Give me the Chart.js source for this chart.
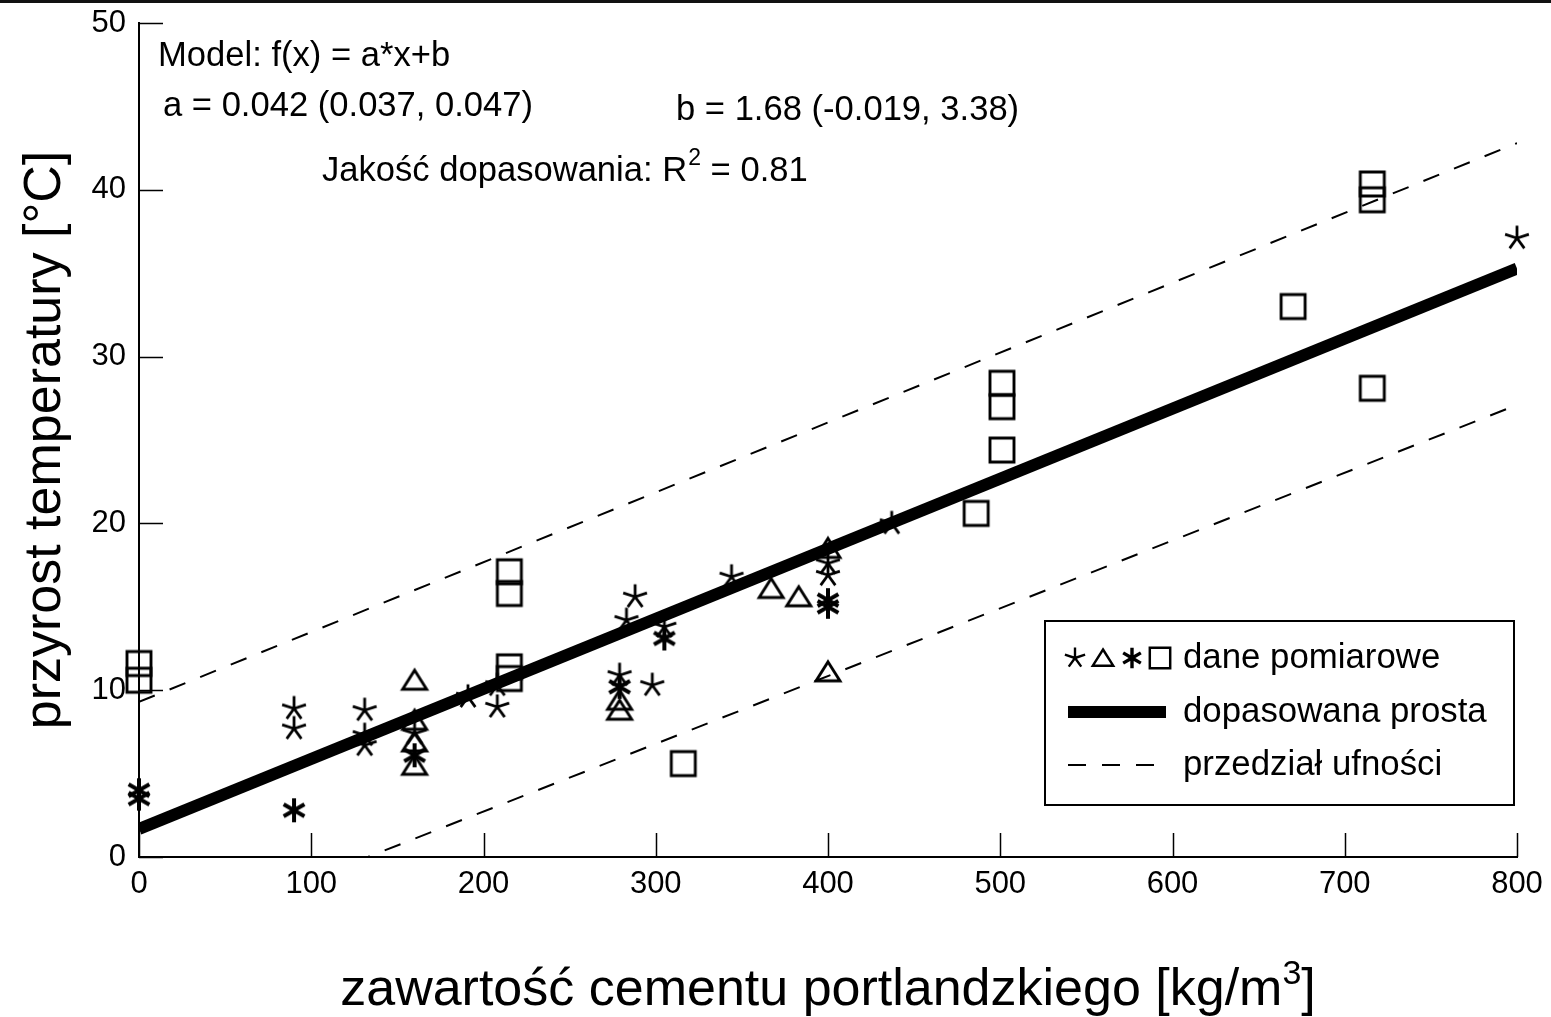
<!DOCTYPE html>
<html>
<head>
<meta charset="utf-8">
<script src="https://cdn.jsdelivr.net/npm/chart.js@4/dist/chart.umd.min.js"></script>
<style>
  html, body { margin: 0; padding: 0; background: #fff; }
  #wrap { position: relative; width: 1551px; height: 1017px; }
  #topbar { position: absolute; left: 0; top: 0; width: 1551px; height: 3px; background: #111; }
</style>
</head>
<body>
<div id="wrap">
  <canvas id="c" width="1551" height="1017"></canvas>
  <div id="topbar"></div>
</div>
<script>
// Measurements: cement content [kg/m3] vs temperature rise [°C]
const thinStarX = [90, 90, 131, 131, 131, 160, 191, 208, 208, 279, 283, 288, 298, 305, 344, 400, 400, 437, 800];
const thinStarY = [8.9, 7.7, 8.8, 7.3, 6.7, 7.4, 9.6, 10.3, 9.0, 10.9, 14.2, 15.6, 10.3, 13.8, 16.8, 17.6, 16.9, 20.0, 37.1];

const triangleX = [160, 160, 160, 160, 279, 279, 367, 383, 400, 400];
const triangleY = [10.6, 8.2, 6.9, 5.5, 9.4, 8.8, 16.1, 15.6, 18.5, 11.1];

const boldStarX = [0, 0, 90, 160, 279, 305, 400, 400];
const boldStarY = [4.0, 3.5, 2.8, 6.1, 10.2, 13.1, 15.4, 15.0];

const squareX = [0, 0, 215, 215, 215, 215, 316, 486, 501, 501, 501, 670, 716, 716, 716];
const squareY = [11.6, 10.6, 17.1, 15.8, 11.4, 10.7, 5.6, 20.6, 28.4, 27.0, 24.4, 33.0, 40.35, 39.4, 28.1];

// Fitted model f(x) = a*x + b
const fitA = 0.042;
const fitB = 1.68;
const fitX = [0, 800];

// Confidence band end points
const upperX = [0, 800];
const upperY = [9.3, 42.8];
const lowerX = [0, 800];
const lowerY = [-5.4, 27.1];

const xTicks = [0, 100, 200, 300, 400, 500, 600, 700, 800];
const yTicks = [0, 10, 20, 30, 40, 50];

const FONT = '"Liberation Sans", Arial, Helvetica, sans-serif';
const DASH = [17, 16];

function pts(xs, ys) { return xs.map((x, i) => ({ x: x, y: ys[i] })); }

// Marker glyphs drawn onto small canvases, used as point styles
function drawMarker(g, kind) {
  g.strokeStyle = '#000';
  g.lineCap = 'butt';
  g.lineJoin = 'miter';
  g.beginPath();
  if (kind === 'thinStar') {
    g.lineWidth = 2.8;
    [-90, -18, 54, 126, 198].forEach(a => {
      const r = a * Math.PI / 180;
      g.moveTo(0, 0);
      g.lineTo(12.5 * Math.cos(r), 12.5 * Math.sin(r));
    });
  } else if (kind === 'boldStar') {
    g.lineWidth = 4;
    [-90, 90, -30, 150, 30, -150].forEach(a => {
      const r = a * Math.PI / 180;
      g.moveTo(0, 0);
      g.lineTo(12 * Math.cos(r), 12 * Math.sin(r));
    });
  } else if (kind === 'triangle') {
    g.lineWidth = 2.9;
    g.moveTo(0, -10);
    g.lineTo(12, 9);
    g.lineTo(-12, 9);
    g.closePath();
  } else if (kind === 'square') {
    g.lineWidth = 2.9;
    g.rect(-12, -12, 24, 24);
  }
  g.stroke();
}

function markerCanvas(kind) {
  const c = document.createElement('canvas');
  c.width = 36; c.height = 36;
  const g = c.getContext('2d');
  g.translate(18, 18);
  drawMarker(g, kind);
  return c;
}

const markers = {
  thinStar: markerCanvas('thinStar'),
  triangle: markerCanvas('triangle'),
  boldStar: markerCanvas('boldStar'),
  square: markerCanvas('square')
};

function scatterSet(label, xs, ys, kind, order) {
  return {
    label: label,
    data: pts(xs, ys),
    pointStyle: markers[kind],
    pointRadius: 12,
    pointHoverRadius: 12,
    showLine: false,
    clip: false,
    order: order
  };
}

function lineSet(label, data, width, dash, order) {
  return {
    label: label,
    data: data,
    showLine: true,
    borderColor: '#000',
    borderWidth: width,
    borderDash: dash,
    borderCapStyle: 'butt',
    pointRadius: 0,
    pointHoverRadius: 0,
    fill: false,
    order: order
  };
}

const TEXT_PX = 34.6;

// Inward tick marks, annotations, legend and axis titles
const decorPlugin = {
  id: 'decor',
  afterDraw(chart) {
    const ctx = chart.ctx;
    const xs = chart.scales.x, ys = chart.scales.y;
    const area = chart.chartArea;
    ctx.save();
    ctx.strokeStyle = '#000';
    ctx.lineWidth = 1.5;
    ctx.beginPath();
    xTicks.forEach(v => {
      const px = Math.round(xs.getPixelForValue(v)) + 0.5;
      ctx.moveTo(px, area.bottom);
      ctx.lineTo(px, area.bottom - 24);
    });
    yTicks.forEach(v => {
      const py = Math.round(ys.getPixelForValue(v)) + 0.5;
      ctx.moveTo(area.left, py);
      ctx.lineTo(area.left + 24, py);
    });
    ctx.stroke();

    // model annotation
    ctx.fillStyle = '#000';
    ctx.textBaseline = 'alphabetic';
    ctx.textAlign = 'left';
    ctx.font = TEXT_PX + 'px ' + FONT;
    ctx.fillText('Model: f(x) = a*x+b', 158, 66);
    ctx.fillText('a = ' + fitA.toFixed(3) + ' (0.037, 0.047)', 163, 116);
    ctx.fillText('b = ' + fitB.toFixed(2) + ' (-0.019, 3.38)', 676, 120);
    let tx = 322;
    const t1 = 'Jakość dopasowania: R';
    ctx.fillText(t1, tx, 181);
    tx += ctx.measureText(t1).width;
    ctx.font = '23px ' + FONT;
    ctx.fillText('2', tx + 1, 165);
    tx += ctx.measureText('2').width + 1;
    ctx.font = TEXT_PX + 'px ' + FONT;
    ctx.fillText(' = 0.81', tx, 181);

    // legend
    const L = { x: 1045, y: 621, w: 469, h: 184 };
    ctx.fillStyle = '#fff';
    ctx.fillRect(L.x, L.y, L.w, L.h);
    ctx.lineWidth = 2;
    ctx.strokeRect(L.x, L.y, L.w, L.h);
    const rows = [658, 712, 765];
    const kinds = ['thinStar', 'triangle', 'boldStar', 'square'];
    const kx = [1075, 1103, 1132, 1160];
    kinds.forEach((k, i) => {
      ctx.save();
      ctx.translate(kx[i], rows[0]);
      ctx.scale(0.85, 0.85);
      drawMarker(ctx, k);
      ctx.restore();
    });
    ctx.lineCap = 'butt';
    ctx.lineWidth = 12;
    ctx.beginPath();
    ctx.moveTo(1068, rows[1]);
    ctx.lineTo(1166, rows[1]);
    ctx.stroke();
    ctx.lineWidth = 2;
    ctx.setLineDash([18, 16]);
    ctx.beginPath();
    ctx.moveTo(1068, rows[2]);
    ctx.lineTo(1158, rows[2]);
    ctx.stroke();
    ctx.setLineDash([]);
    ctx.fillStyle = '#000';
    ctx.font = '34.8px ' + FONT;
    ctx.textBaseline = 'middle';
    ctx.fillText('dane pomiarowe', 1183, rows[0]);
    ctx.fillText('dopasowana prosta', 1183, rows[1]);
    ctx.fillText('przedział ufności', 1183, rows[2]);

    // axis titles
    ctx.textBaseline = 'alphabetic';
    ctx.font = '52px ' + FONT;
    const xt1 = 'zawartość cementu portlandzkiego [kg/m';
    const w1 = ctx.measureText(xt1).width;
    ctx.font = '34px ' + FONT;
    const w2 = ctx.measureText('3').width;
    ctx.font = '52px ' + FONT;
    const w3 = ctx.measureText(']').width;
    let sx = 828 - (w1 + w2 + w3) / 2;
    ctx.fillText(xt1, sx, 1005);
    sx += w1;
    ctx.font = '34px ' + FONT;
    ctx.fillText('3', sx, 984);
    sx += w2;
    ctx.font = '52px ' + FONT;
    ctx.fillText(']', sx, 1005);

    ctx.save();
    ctx.translate(60, 440);
    ctx.rotate(-Math.PI / 2);
    ctx.textAlign = 'center';
    ctx.fillText('przyrost temperatury [°C]', 0, 0);
    ctx.restore();
    ctx.restore();
  }
};

new Chart(document.getElementById('c'), {
  type: 'scatter',
  data: {
    datasets: [
      lineSet('dopasowana prosta', fitX.map(x => ({ x: x, y: fitA * x + fitB })), 12, [], 0),
      lineSet('przedział ufności (górny)', pts(upperX, upperY), 2, DASH, 1),
      lineSet('przedział ufności (dolny)', pts(lowerX, lowerY), 2, DASH, 1),
      scatterSet('dane pomiarowe 1', thinStarX, thinStarY, 'thinStar', 2),
      scatterSet('dane pomiarowe 2', triangleX, triangleY, 'triangle', 2),
      scatterSet('dane pomiarowe 3', boldStarX, boldStarY, 'boldStar', 2),
      scatterSet('dane pomiarowe 4', squareX, squareY, 'square', 2)
    ]
  },
  options: {
    responsive: false,
    animation: false,
    events: [],
    layout: { padding: { top: 23, right: 34, left: 0, bottom: 0 } },
    plugins: {
      legend: { display: false },
      tooltip: { enabled: false },
      title: { display: false }
    },
    scales: {
      x: {
        type: 'linear',
        min: 0,
        max: 800,
        afterBuildTicks: s => { s.ticks = xTicks.map(v => ({ value: v })); },
        afterFit: s => { s.height = 160; s.paddingLeft = 0; s.paddingRight = 0; },
        grid: { display: false, drawTicks: false },
        border: { display: true, color: '#000', width: 2 },
        ticks: { color: '#000', font: { family: FONT, size: 31 }, padding: 9, maxRotation: 0 }
      },
      y: {
        type: 'linear',
        min: 0,
        max: 50,
        afterBuildTicks: s => { s.ticks = yTicks.map(v => ({ value: v })); },
        afterFit: s => { s.width = 139; s.paddingTop = 0; s.paddingBottom = 0; },
        grid: { display: false, drawTicks: false },
        border: { display: true, color: '#000', width: 2 },
        ticks: { color: '#000', font: { family: FONT, size: 31 }, padding: 13 }
      }
    }
  },
  plugins: [decorPlugin]
});
</script>
</body>
</html>
